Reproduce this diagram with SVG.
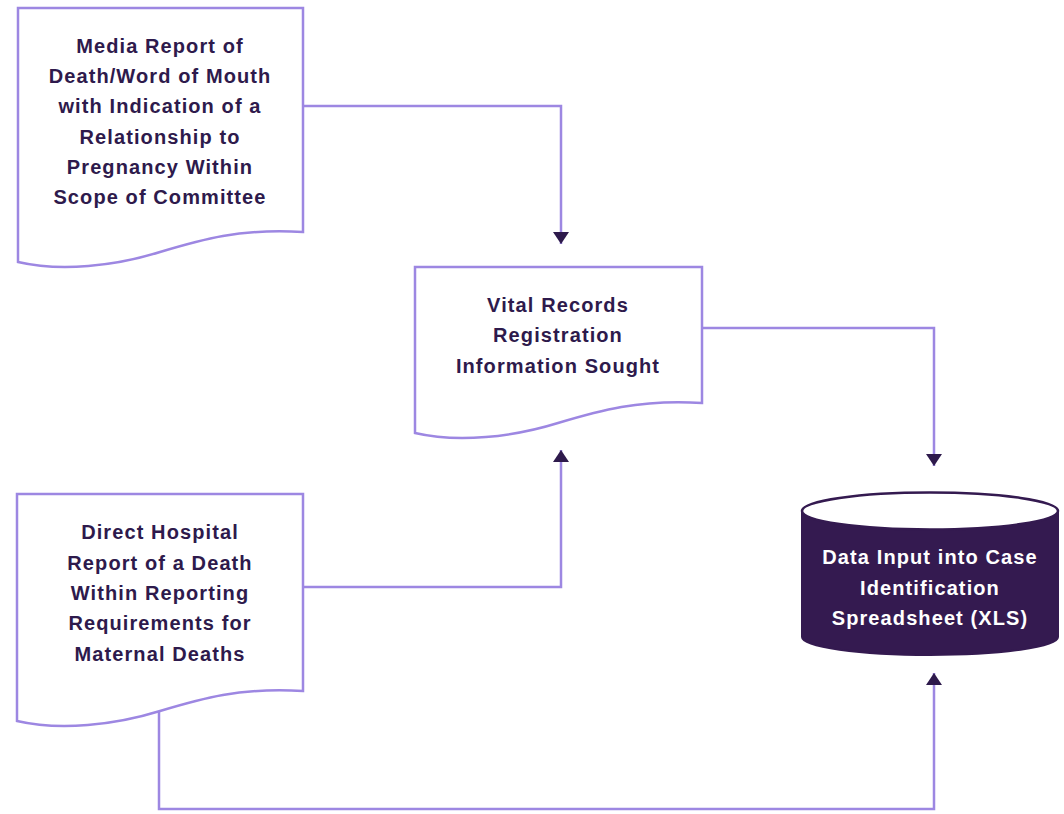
<svg xmlns="http://www.w3.org/2000/svg" width="1064" height="814" viewBox="0 0 1064 814">
<style>
.doc{fill:#ffffff;stroke:#9d87e2;stroke-width:2.5}
.edge{fill:none;stroke:#9d87e2;stroke-width:2.5}
.t{font-family:"Liberation Sans",Arial,sans-serif;font-weight:bold;font-size:20px;letter-spacing:1.1px;fill:#2e1a4c;text-anchor:middle}
.w{fill:#ffffff}
</style>
<defs>
<marker id="arr" viewBox="0 0 12 16" refX="12" refY="8" markerWidth="12" markerHeight="16" markerUnits="userSpaceOnUse" orient="auto">
<path d="M0,0 L12,8 L0,16 Z" fill="#2e1a4c"/>
</marker>
</defs>
<rect width="1064" height="814" fill="#ffffff"/>
<g id="connectors">
<path class="edge" d="M303,106 H561 V244" marker-end="url(#arr)"/>
<path class="edge" d="M702,328 H934 V466" marker-end="url(#arr)"/>
<path class="edge" d="M303,587 H561 V450" marker-end="url(#arr)"/>
<path class="edge" d="M159,712 V809 H934 V673" marker-end="url(#arr)"/>
</g>
<g id="media-report">
<path class="doc" d="M18,8 H303 V232 C240,228 200,240 160,252 C115,266 61,272 18,262 Z"/>
<text class="t" x="160" y="53">Media Report of</text>
<text class="t" x="160" y="83">Death/Word of Mouth</text>
<text class="t" x="160" y="113">with Indication of a</text>
<text class="t" x="160" y="144">Relationship to</text>
<text class="t" x="160" y="174">Pregnancy Within</text>
<text class="t" x="160" y="204">Scope of Committee</text>
</g>
<g id="vital-records">
<path class="doc" d="M415,267 H702 V403 C639,399 598,411 558,423 C513,437 458,443 415,433 Z"/>
<text class="t" x="558" y="312">Vital Records</text>
<text class="t" x="558" y="342">Registration</text>
<text class="t" x="558" y="373">Information Sought</text>
</g>
<g id="direct-hospital">
<path class="doc" d="M17,494 H303 V691 C240,687 200,699 160,711 C115,725 60,731 17,721 Z"/>
<text class="t" x="160" y="539">Direct Hospital</text>
<text class="t" x="160" y="570">Report of a Death</text>
<text class="t" x="160" y="600">Within Reporting</text>
<text class="t" x="160" y="630">Requirements for</text>
<text class="t" x="160" y="661">Maternal Deaths</text>
</g>
<g id="spreadsheet">
<path d="M802,511 V637 A128,18 0 0 0 1058,637 V511 Z" fill="#341a50" stroke="#341a50" stroke-width="2"/>
<ellipse cx="930" cy="511" rx="128" ry="18.5" fill="#ffffff" stroke="#341a50" stroke-width="2.5"/>
<text class="t w" x="930" y="564">Data Input into Case</text>
<text class="t w" x="930" y="595">Identification</text>
<text class="t w" x="930" y="625">Spreadsheet (XLS)</text>
</g>
</svg>
